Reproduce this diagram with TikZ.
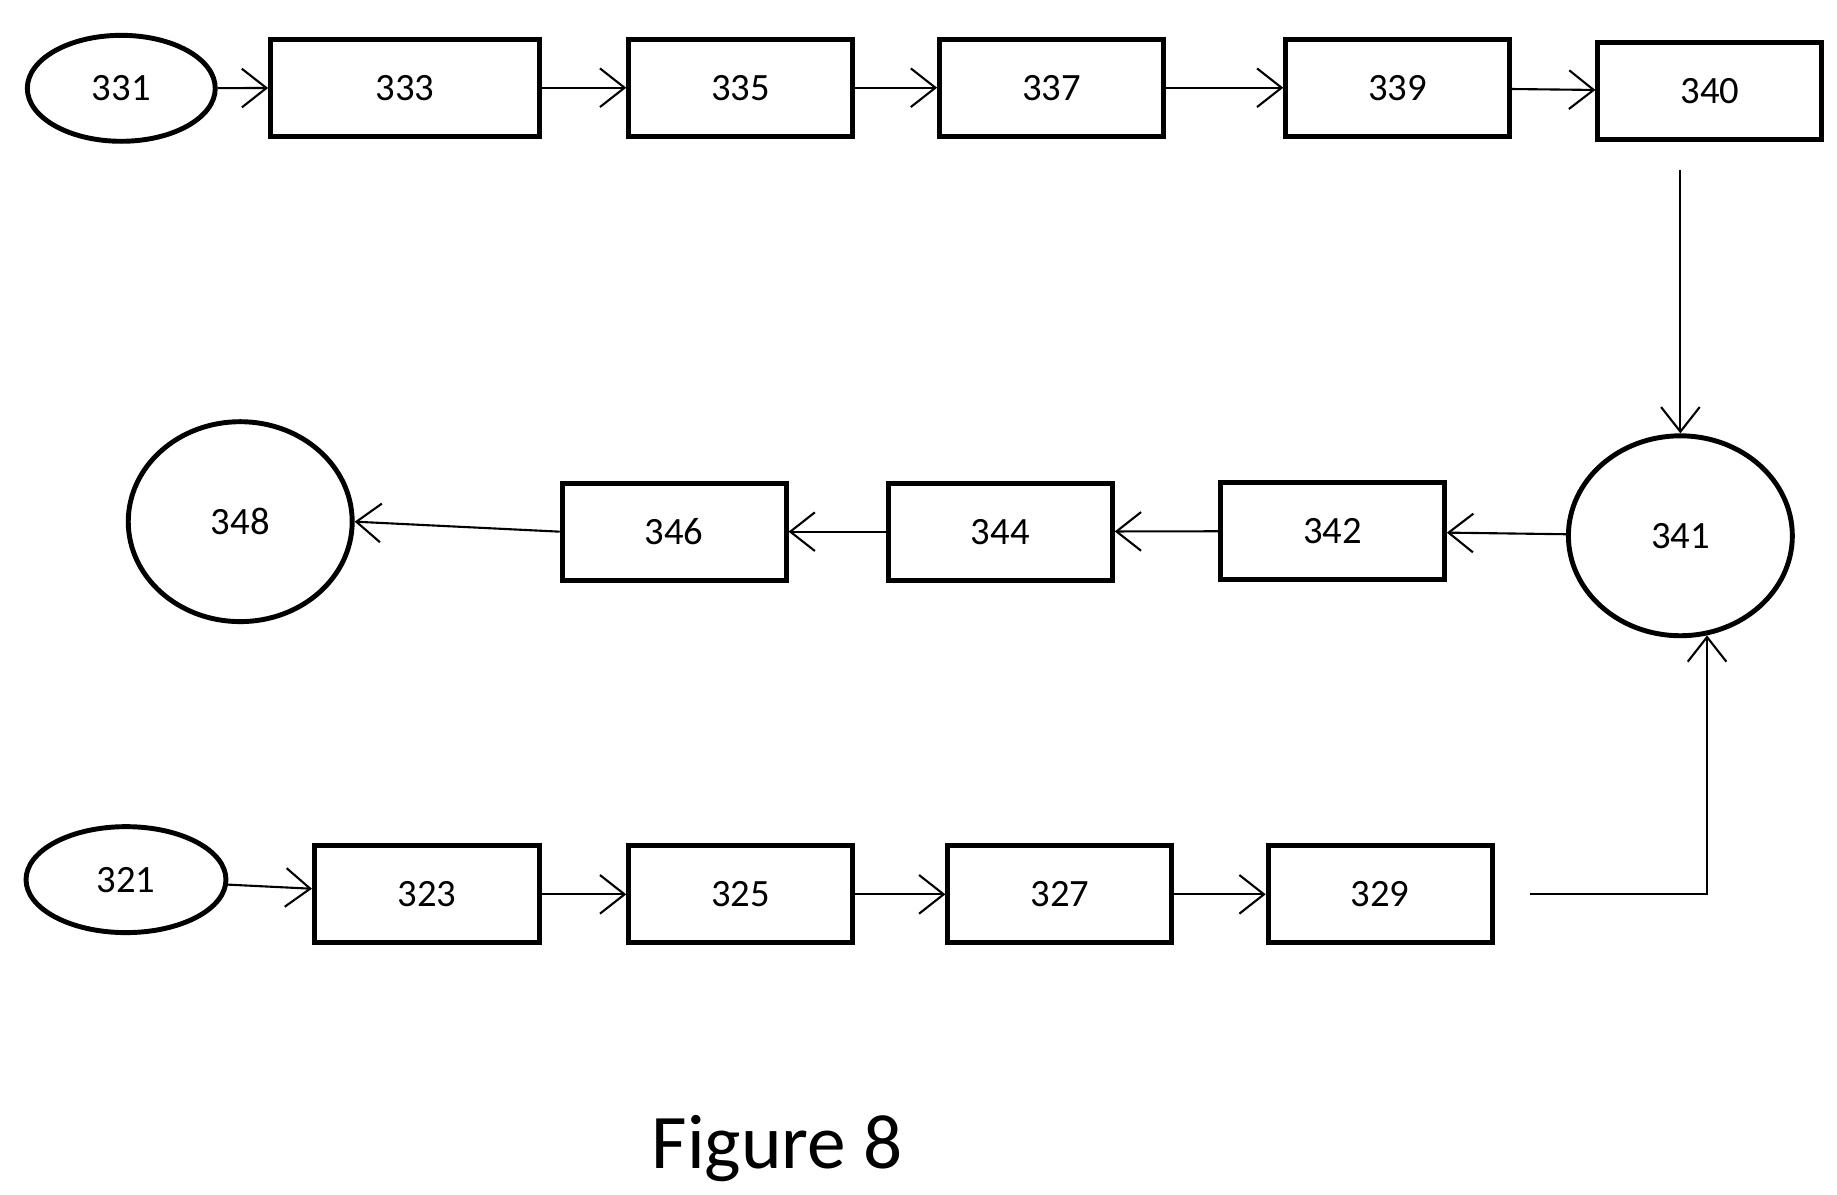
\documentclass[tikz,border=0pt]{standalone}
\usepackage{fontspec}
\setmainfont{Carlito}
\usetikzlibrary{arrows.meta, positioning, shapes.geometric}

\begin{document}
\begin{tikzpicture}[x=0.011776cm, y=-0.011776cm,
    box/.style={draw, line width=1.4pt, minimum width=2.24cm, minimum height=0.97cm, font=\fontsize{11}{13}\selectfont},
    oval/.style={draw, ellipse, line width=1.4pt, font=\fontsize{11}{13}\selectfont},
    flow/.style={-{Straight Barb[length=7pt, width=11pt]}, line width=0.6pt}]
    \useasboundingbox (0,0) rectangle (1560,1014);
    % top row
    \node[oval, minimum width=1.88cm, minimum height=1.06cm] (n331) at (103,75) {331};
    \node[box, minimum width=2.69cm] (n333) at (344,74.5) {333};
    \node[box] (n335) at (629,74.5) {335};
    \node[box] (n337) at (893,74.5) {337};
    \node[box] (n339) at (1187,74.5) {339};
    \node[box] (n340) at (1452,77.5) {340};
    % middle row
    \node[oval, minimum width=2.24cm, minimum height=2.0cm] (n341) at (1427,455) {341};
    \node[box] (n342) at (1131.5,451) {342};
    \node[box] (n344) at (849.5,451.5) {344};
    \node[box] (n346) at (572.5,451.5) {346};
    \node[oval, minimum width=2.24cm, minimum height=2.0cm] (n348) at (204,443) {348};
    % bottom row
    \node[oval, minimum width=2.0cm, minimum height=1.06cm] (n321) at (107,747) {321};
    \node[box, minimum width=2.25cm] (n323) at (362.5,759.5) {323};
    \node[box] (n325) at (629,759.5) {325};
    \node[box] (n327) at (900,759.5) {327};
    \node[box] (n329) at (1172,759.5) {329};
    \node[font=\fontsize{22}{26}\selectfont] (caption) at (660,975) {Figure 8};

    \draw[flow] (n331) -- (n333);
    \draw[flow] (n333) -- (n335);
    \draw[flow] (n335) -- (n337);
    \draw[flow] (n337) -- (n339);
    \draw[flow] (n339) -- (n340);
    \draw[flow, shorten <=8pt] (n340.south -| n341) -- (n341);
    \draw[flow] (n341) -- (n342);
    \draw[flow] (n342) -- (n344);
    \draw[flow] (n344) -- (n346);
    \draw[flow] (n346.west) -- (n348.east);
    \draw[flow] (n321) -- (n323);
    \draw[flow] (n323) -- (n325);
    \draw[flow] (n325) -- (n327);
    \draw[flow] (n327) -- (n329);
    \draw[flow, shorten <=10pt] (n329.east) -| (n341.-75);
\end{tikzpicture}
\end{document}
